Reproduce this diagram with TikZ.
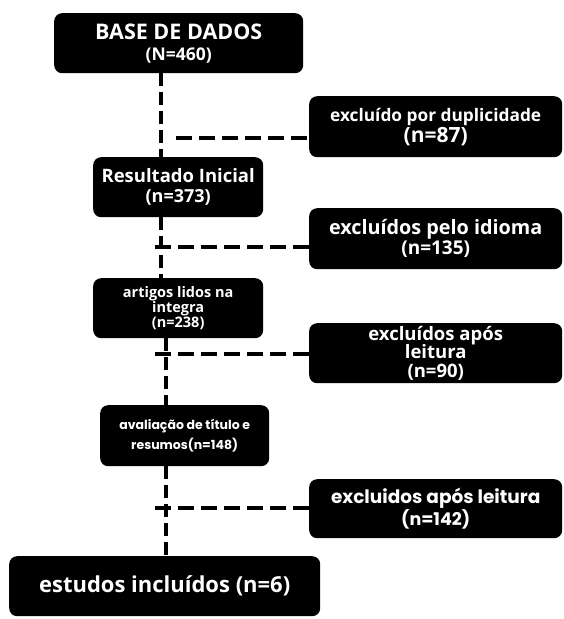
\documentclass[tikz,border=0pt]{standalone}
\usepackage{fontspec}
\setmainfont{Open Sans}
\newfontfamily\geo{Poppins}
\newcommand{\fsz}[2]{\fontsize{#1}{#2}\selectfont}
\begin{document}
\begin{tikzpicture}[x=1pt,y=-1pt,
  box/.style={fill=black,text=white,rounded corners=8pt,anchor=north west,inner sep=0pt,align=center},
  dl/.style={line width=4pt,dash pattern=on 13pt off 6pt},
  hl/.style={line width=4pt,dash pattern=on 16pt off 7pt}]
\useasboundingbox (0,0) rectangle (563,619);
% main column
\node[box,minimum width=249pt,minimum height=60pt,font=\bfseries\fsz{21.5}{21}] (base) at (54,13)
  {BASE DE DADOS\\{\fsz{17.5}{21}(N=460)}};
\node[box,minimum width=170pt,minimum height=60pt,font=\bfseries\fsz{18.5}{20}] (res) at (93,157)
  {Resultado Inicial\\{\fsz{18}{20}(n=373)}};
\node[box,minimum width=170pt,minimum height=60pt,font=\bfseries\fsz{14.5}{15}] (art) at (93,278)
  {artigos lidos na\\integra\\(n=238)};
\node[box,minimum width=169pt,minimum height=61pt,font=\geo\bfseries\fsz{12.5}{20}] (aval) at (100,405)
  {avaliação de título e\\resumos(n=148)};
\node[box,minimum width=311pt,minimum height=60pt,font=\bfseries\fsz{22}{24}] (est) at (9,556)
  {estudos incluídos (n=6)};
% exclusion boxes
\node[box,minimum width=253pt,minimum height=61pt,font=\bfseries\fsz{17.3}{21}] (ex1) at (309,96)
  {excluído por duplicidade\\{\fsz{21}{21}(n=87)}};
\node[box,minimum width=253pt,minimum height=61pt,font=\bfseries\fsz{19.8}{20}] (ex2) at (309,208)
  {excluídos pelo idioma\\{\fsz{19}{20}(n=135)}};
\node[box,minimum width=253pt,minimum height=60pt,font=\bfseries\fsz{18.5}{18.5}] (ex3) at (309,323)
  {excluídos após\\leitura\\(n=90)};
\node[box,minimum width=253pt,minimum height=59pt,font=\geo\bfseries\fsz{18.5}{22}] (ex4) at (309,479)
  {excluidos após leitura\\{\fsz{17.5}{22}(n=142)}};
% vertical connectors
\coordinate (c1) at (161,0);
\coordinate (c2) at (166,0);
\draw[dl] (base.south -| c1) -- (res.north -| c1);
\draw[dl] (res.south -| c1) -- (art.north -| c1);
\draw[dl] (art.south -| c2) -- (aval.north -| c2);
\draw[dl] (aval.south -| c2) -- (est.north -| c2);
% horizontal connectors
\coordinate (h1) at (176,138);
\coordinate (h2) at (155,247);
\coordinate (h3) at (155,354);
\coordinate (h4) at (155,508);
\draw[hl] (h1) -- (h1 -| ex1.west);
\draw[hl] (h2) -- (h2 -| ex2.west);
\draw[hl] (h3) -- (h3 -| ex3.west);
\draw[hl] (h4) -- (h4 -| ex4.west);
\end{tikzpicture}
\end{document}
